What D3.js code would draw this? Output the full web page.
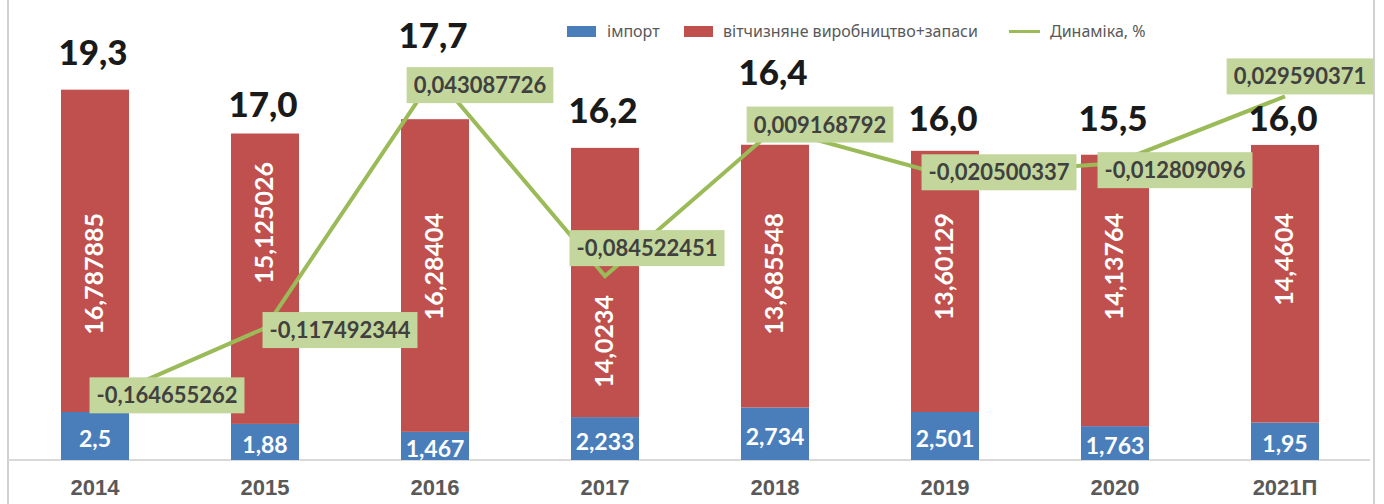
<!DOCTYPE html>
<html><head><meta charset="utf-8">
<script src="https://cdn.jsdelivr.net/npm/d3@7"></script>
<style>html,body{margin:0;padding:0;background:#fff;}svg{display:block;}</style>
</head><body>
<script>
const years = ["2014","2015","2016","2017","2018","2019","2020","2021П"];
const importVals = [2.5, 1.88, 1.467, 2.233, 2.734, 2.501, 1.763, 1.95];
const domesticVals = [16.787885, 15.125026, 16.28404, 14.0234, 13.685548, 13.60129, 14.13764, 14.4604];
const totalLabels = ["19,3","17,0","17,7","16,2","16,4","16,0","15,5","16,0"];
const dynamics = [-0.164655262, -0.117492344, 0.043087726, -0.084522451, 0.009168792, -0.020500337, -0.012809096, 0.029590371];
const dynLabels = ["-0,164655262","-0,117492344","0,043087726","-0,084522451","0,009168792","-0,020500337","-0,012809096","0,029590371"];
const seriesNames = ["імпорт","вітчизняне виробництво+запаси","Динаміка, %"];

// layout adjustments of labels (manual placements in the original)
const dynLabelShift = [[72,-7],[75,2],[45,10],[42,-28],[45,-4],[54,-3],[60,7],[15,-20]];
const totalLabelLift = [25,17,71,25,60,20,24,14];
const domLabelShift = [0,-51,0,82,0,0,0,0];

const W = 1384, H = 504;
const colBlue = "#4a7ebb", colRed = "#c0504d", colGreen = "#9bbb59", colBox = "#c3d69b";

const svg = d3.select("body").append("svg").attr("width", W).attr("height", H);

const x = d3.scaleBand().domain(years).range([10, 1370]).paddingInner(0.6).paddingOuter(0.3);
const y = d3.scaleLinear().domain([0, 20]).range([460, 76]);
const y2 = d3.scaleLinear().domain([-0.2, 0.05]).range([458, 64.25]);
const cx = d => x(d) + x.bandwidth() / 2;

// borders
svg.append("line").attr("x1", 8).attr("x2", 8).attr("y1", 0).attr("y2", H).attr("stroke", "#d0d0d0").attr("stroke-width", 2);
svg.append("line").attr("x1", 1374).attr("x2", 1374).attr("y1", 0).attr("y2", H).attr("stroke", "#d0d0d0").attr("stroke-width", 2);

// baseline axis
const xAxis = svg.append("g").attr("transform", "translate(0,460)")
  .call(d3.axisBottom(x).tickSize(0).tickPadding(0));
xAxis.select(".domain").attr("d", "M8,0H1370").attr("stroke", "#d9d9d9").attr("stroke-width", 2);
xAxis.selectAll(".tick text").attr("y", 35).attr("dy", null)
  .attr("font-family", "'Liberation Sans', Arial, sans-serif").attr("font-weight", "bold")
  .attr("font-size", 22).attr("fill", "#595959");

const rows = years.map((yr, i) => ({yr, i, imp: importVals[i], dom: domesticVals[i]}));

// bars
svg.append("g").selectAll("rect").data(rows).join("rect")
  .attr("x", d => x(d.yr)).attr("width", x.bandwidth())
  .attr("y", d => y(d.imp)).attr("height", d => y(0) - y(d.imp)).attr("fill", colBlue);
svg.append("g").selectAll("rect").data(rows).join("rect")
  .attr("x", d => x(d.yr)).attr("width", x.bandwidth())
  .attr("y", d => y(d.imp + d.dom)).attr("height", d => y(d.imp) - y(d.imp + d.dom)).attr("fill", colRed);

const fontMain = "Lato, 'Noto Sans', sans-serif";

// import labels
svg.append("g").selectAll("text").data(rows).join("text")
  .attr("x", d => cx(d.yr)).attr("y", d => (y(0) + y(d.imp)) / 2 + 11)
  .attr("text-anchor", "middle").attr("font-family", fontMain).attr("font-weight", "bold")
  .attr("font-size", 23).attr("fill", "#fff")
  .text(d => String(d.imp).replace(".", ","));

// domestic labels (rotated)
svg.append("g").selectAll("text").data(rows).join("text")
  .attr("transform", d => `translate(${cx(d.yr) + 8},${213 + domLabelShift[d.i]}) rotate(-90)`)
  .attr("text-anchor", "end").attr("font-family", fontMain).attr("font-weight", "bold")
  .attr("font-size", 25).attr("fill", "#fff")
  .text(d => String(d.dom).replace(".", ","));

// dynamics line
const line = d3.line().x(d => cx(d.yr)).y(d => y2(dynamics[d.i]));
svg.append("path").datum(rows).attr("d", line).attr("fill", "none")
  .attr("stroke", colGreen).attr("stroke-width", 4).attr("stroke-linejoin", "miter");

// dynamics labels
const lg = svg.append("g").selectAll("g").data(rows).join("g")
  .attr("transform", d => `translate(${cx(d.yr) + dynLabelShift[d.i][0]},${y2(dynamics[d.i]) + dynLabelShift[d.i][1]})`);
lg.append("rect").attr("fill", colBox);
lg.append("text").attr("text-anchor", "middle").attr("y", 8)
  .attr("font-family", fontMain).attr("font-weight", "bold").attr("font-size", 22).attr("fill", "#404040")
  .text(d => dynLabels[d.i]);
lg.each(function() {
  const g = d3.select(this);
  const w = g.select("text").node().getComputedTextLength() + 14;
  g.select("rect").attr("x", -w / 2).attr("y", -18).attr("width", w).attr("height", 36);
});

// totals
svg.append("g").selectAll("text").data(rows).join("text")
  .attr("x", d => cx(d.yr) - 2).attr("y", d => y(d.imp + d.dom) - totalLabelLift[d.i])
  .attr("text-anchor", "middle").attr("font-family", fontMain).attr("font-weight", "900")
  .attr("font-size", 35).attr("fill", "#1a1a1a")
  .text(d => totalLabels[d.i]);

// legend
const leg = svg.append("g").attr("font-family", "'Noto Sans', sans-serif").attr("font-size", 16).attr("fill", "#595959");
leg.append("rect").attr("x", 567).attr("y", 26).attr("width", 29).attr("height", 11).attr("fill", colBlue);
leg.append("text").attr("x", 607).attr("y", 37).text(seriesNames[0]);
leg.append("rect").attr("x", 684).attr("y", 26).attr("width", 29).attr("height", 11).attr("fill", colRed);
leg.append("text").attr("x", 723).attr("y", 37).text(seriesNames[1]);
leg.append("line").attr("x1", 1009).attr("x2", 1040).attr("y1", 31.5).attr("y2", 31.5).attr("stroke", colGreen).attr("stroke-width", 3);
leg.append("text").attr("x", 1050).attr("y", 37).text(seriesNames[2]);
</script>
</body></html>
